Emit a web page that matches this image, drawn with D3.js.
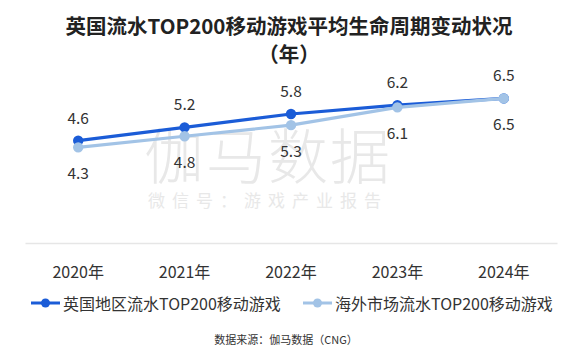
<!DOCTYPE html>
<html><head><meta charset="utf-8">
<script src="https://cdn.jsdelivr.net/npm/d3@7"></script>
<style>
html,body{margin:0;padding:0;background:#fff;}
svg{display:block;font-family:"Noto Sans CJK SC","Noto Sans",sans-serif;}
</style></head>
<body><svg id="c" width="573" height="360"></svg>
<script>
const categories = ["2020年","2021年","2022年","2023年","2024年"];
const ukValues = [4.6, 5.2, 5.8, 6.2, 6.5];
const overseasValues = [4.3, 4.8, 5.3, 6.1, 6.5];
const seriesNames = ["英国地区流水TOP200移动游戏","海外市场流水TOP200移动游戏"];
const titleLines = ["英国流水TOP200移动游戏平均生命周期变动状况","（年）"];
const sourceText = "数据来源：伽马数据（CNG）";

const svg = d3.select("#c");
const darkC = "#1b5cd7", lightC = "#a2c3e6";

// title
svg.append("g").selectAll("text").data(titleLines).join("text")
  .attr("x", 289).attr("y", (d,i)=> 25 + i*28)
  .attr("text-anchor","middle").attr("dominant-baseline","central")
  .attr("font-size", 20.5).attr("font-weight","bold").attr("fill","#222")
  .text(d=>d);

// watermark
svg.append("text").attr("x", 268).attr("y", 152).attr("text-anchor","middle")
  .attr("dominant-baseline","central").attr("font-size", 60).attr("font-weight", 300)
  .attr("fill","#e8e8e8").attr("letter-spacing", 2).text("伽马数据");
svg.append("text").attr("x", 268).attr("y", 199).attr("text-anchor","middle")
  .attr("dominant-baseline","central").attr("font-size", 17)
  .attr("fill","#e8e8e8").attr("letter-spacing", 7).text("微信号：游戏产业报告");

const x = d3.scaleBand().domain(categories).range([25, 557]);
const y = d3.scaleLinear().domain([0, 7]).range([243, 243 - 7*22.24]);
const cx = d => x(d) + x.bandwidth()/2;

// x axis
const ax = svg.append("g").attr("transform","translate(0,243)")
  .call(d3.axisBottom(x).tickSize(0).tickPadding(24));
ax.select(".domain").attr("stroke","#e6e6e6").attr("stroke-width",1.5);
ax.selectAll("text").attr("font-size",16).attr("fill","#333")
  .attr("font-family",'"Noto Sans CJK SC","Noto Sans",sans-serif');

const series = [
  {name: seriesNames[0], values: ukValues, color: darkC, dy: -24},
  {name: seriesNames[1], values: overseasValues, color: lightC, dy: 25}
];
const line = d3.line().x((d,i)=>cx(categories[i])).y(d=>y(d));
series.forEach(s=>{
  const g = svg.append("g");
  g.append("path").datum(s.values).attr("d", line).attr("fill","none")
    .attr("stroke", s.color).attr("stroke-width", 3.2);
  g.selectAll("circle").data(s.values).join("circle")
    .attr("cx",(d,i)=>cx(categories[i])).attr("cy", d=>y(d)).attr("r",5.2)
    .attr("fill", s.color);
});
series.forEach(s=>{
  svg.append("g").selectAll("text").data(s.values).join("text")
    .attr("x",(d,i)=>cx(categories[i])).attr("y", d=>y(d)+s.dy)
    .attr("text-anchor","middle").attr("dominant-baseline","central")
    .attr("font-size",15.5).attr("fill","#333").text(d=>d.toFixed(1));
});

// legend
const lg = svg.append("g");
const items = [{x0: 31, c: darkC, t: seriesNames[0]}, {x0: 303, c: lightC, t: seriesNames[1]}];
items.forEach(it=>{
  lg.append("line").attr("x1", it.x0).attr("x2", it.x0+29).attr("y1",303).attr("y2",303)
    .attr("stroke", it.c).attr("stroke-width",3);
  lg.append("circle").attr("cx", it.x0+14.5).attr("cy",303).attr("r",4.5).attr("fill", it.c);
  lg.append("text").attr("x", it.x0+32).attr("y",303).attr("dominant-baseline","central")
    .attr("font-size",16).attr("fill","#333").text(it.t);
});

svg.append("text").attr("x", 286).attr("y", 339).attr("text-anchor","middle")
  .attr("dominant-baseline","central").attr("font-size",11).attr("fill","#333").text(sourceText);
</script></body></html>
